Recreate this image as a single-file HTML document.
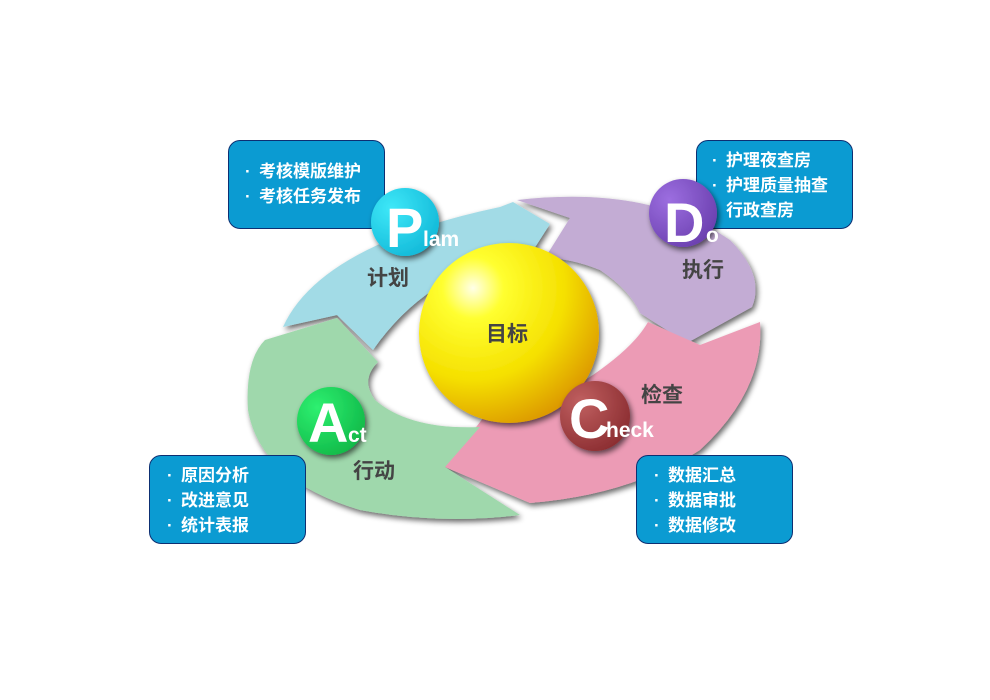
<!DOCTYPE html>
<html><head><meta charset="utf-8"><style>
body{margin:0;width:990px;height:700px;background:#fff;overflow:hidden;position:relative;font-family:"Liberation Sans","Noto Sans CJK SC",sans-serif}
.box{position:absolute;width:157px;height:89px;background:#0b9bd2;border:1px solid #0d2f72;border-radius:12px;color:#fff;font-size:17px;font-weight:bold;box-sizing:border-box;line-height:25px}
.box div{white-space:nowrap}
.box b{display:inline-block;width:14px;font-weight:bold}
svg{position:absolute;left:0;top:0}
</style></head><body>
<div class="box" style="left:228px;top:140px;padding:18px 0 0 16px"><div><b>·</b>考核模版维护</div><div><b>·</b>考核任务发布</div></div>
<div class="box" style="left:696px;top:140px;padding:7px 0 0 15px"><div><b>·</b>护理夜查房</div><div><b>·</b>护理质量抽查</div><div><b></b>行政查房</div></div>
<svg width="990" height="700" viewBox="0 0 990 700">
<defs>
<filter id="sh" x="-20%" y="-20%" width="140%" height="140%"><feGaussianBlur in="SourceAlpha" stdDeviation="3"/><feOffset dx="2" dy="3"/><feComponentTransfer><feFuncA type="linear" slope="0.6"/></feComponentTransfer><feMerge><feMergeNode/><feMergeNode in="SourceGraphic"/></feMerge></filter>
<radialGradient id="sph" cx="0.3" cy="0.25" r="0.85"><stop offset="0" stop-color="#ffffe8"/><stop offset="0.2" stop-color="#ffff30"/><stop offset="0.6" stop-color="#f5e000"/><stop offset="1" stop-color="#d99000"/></radialGradient>
<radialGradient id="gp" cx="0.3" cy="0.3" r="0.8"><stop offset="0" stop-color="#3ee8f8"/><stop offset="1" stop-color="#12b8d8"/></radialGradient>
<radialGradient id="gd" cx="0.3" cy="0.3" r="0.8"><stop offset="0" stop-color="#9c6ee0"/><stop offset="1" stop-color="#6a3fae"/></radialGradient>
<radialGradient id="gc" cx="0.3" cy="0.3" r="0.8"><stop offset="0" stop-color="#c06060"/><stop offset="1" stop-color="#8a2c30"/></radialGradient>
<radialGradient id="ga" cx="0.3" cy="0.3" r="0.8"><stop offset="0" stop-color="#2ef070"/><stop offset="1" stop-color="#10b848"/></radialGradient>
</defs>
<g filter="url(#sh)">
<path d="M283,327 Q320,245 500,207 L513,202 L550,224 L532,252 Q430,268 373,350 L337,315 Z" fill="#a2dbe6"/>
<path d="M517,200 Q650,185 730,240 Q765,275 752,307 L687,343 L640,313 Q630,290 600,270 Q570,258 545,258 L570,218 Z" fill="#c3acd4"/>
<path d="M760,322 Q765,390 700,450 Q630,495 530,503 L445,467 L487,413 Q560,400 600,370 Q635,345 648,322 L700,345 Z" fill="#ec9bb5"/>
<path d="M520,515 Q440,525 360,510 Q260,480 248,410 Q245,360 265,340 L337,318 L378,362 Q360,380 375,400 Q410,430 480,427 L445,467 Z" fill="#9fd8ac"/>
</g>
<circle cx="509" cy="333" r="90" fill="url(#sph)" filter="url(#sh)"/>
<circle cx="405" cy="222" r="34" fill="url(#gp)" filter="url(#sh)"/>
<circle cx="683" cy="213" r="34" fill="url(#gd)" filter="url(#sh)"/>
<circle cx="595" cy="416" r="35" fill="url(#gc)" filter="url(#sh)"/>
<circle cx="331" cy="421" r="34" fill="url(#ga)" filter="url(#sh)"/>
<g font-family="Liberation Sans,sans-serif" fill="#fff" font-weight="bold">
<text x="386" y="247" font-size="56">P</text><text x="423" y="246" font-size="21">lam</text>
<text x="664" y="242" font-size="56">D</text><text x="706" y="242" font-size="21">o</text>
<text x="569" y="438" font-size="56">C</text><text x="606" y="437" font-size="21">heck</text>
<text x="308" y="442" font-size="56">A</text><text x="348" y="442" font-size="21">ct</text>
</g>
<g font-family="Liberation Sans,Noto Sans CJK SC,sans-serif" font-size="21" font-weight="bold" fill="#444">
<text x="367" y="285">计划</text>
<text x="682" y="277">执行</text>
<text x="641" y="402">检查</text>
<text x="353" y="478">行动</text>
<text x="486" y="341">目标</text>
</g>
</svg>
<div class="box" style="left:149px;top:455px;padding:7px 0 0 17px"><div><b>·</b>原因分析</div><div><b>·</b>改进意见</div><div><b>·</b>统计表报</div></div>
<div class="box" style="left:636px;top:455px;padding:7px 0 0 17px"><div><b>·</b>数据汇总</div><div><b>·</b>数据审批</div><div><b>·</b>数据修改</div></div>
</body></html>
